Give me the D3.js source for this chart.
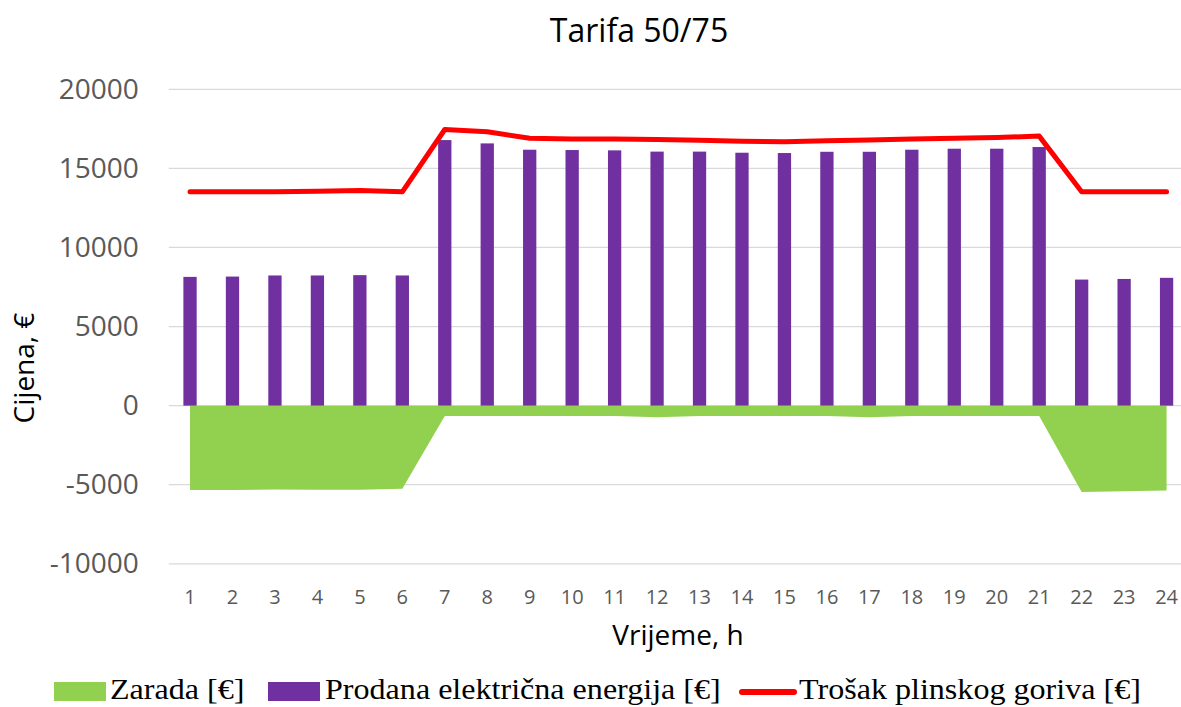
<!DOCTYPE html>
<html>
<head>
<meta charset="utf-8">
<script src="https://cdn.jsdelivr.net/npm/d3@7"></script>
<style>
  html, body { margin: 0; padding: 0; background: #fff; }
  svg { display: block; }
</style>
</head>
<body>
<svg id="chart" width="1181" height="707"></svg>
<script>
// Hours of the day
const hours = d3.range(1, 25).map(String);

// Sold electricity per hour [€]
const soldElectricity = [
  8140, 8160, 8230, 8230, 8250, 8230,
  16790, 16580, 16180, 16160, 16140, 16060,
  16060, 15990, 15970, 16050, 16050, 16180,
  16245, 16245, 16350, 7970, 8010, 8080
];

// Gas fuel cost per hour [€]
const gasCost = [
  13520, 13520, 13530, 13550, 13600, 13520,
  17460, 17320, 16900, 16860, 16850, 16830,
  16780, 16720, 16680, 16740, 16800, 16860,
  16910, 16950, 17040, 13520, 13520, 13520
];

// Earnings per hour [€]
const earnings = [
  -5340, -5340, -5310, -5320, -5320, -5260,
  -650, -650, -650, -650, -650, -740,
  -650, -650, -650, -650, -740, -650,
  -650, -650, -650, -5460, -5420, -5360
];

const yTicks = [-10000, -5000, 0, 5000, 10000, 15000, 20000];

const legendLabels = ["Zarada [€]", "Prodana električna energija [€]", "Trošak plinskog goriva [€]"];

const colors = { earnings: "#92D050", sold: "#7030A0", cost: "#FF0000" };

const svg = d3.select("#chart");
const sansFont = "'Open Sans', 'Noto Sans', sans-serif";
const serifFont = "'Liberation Serif', 'Times New Roman', serif";

const plot = { left: 168.8, right: 1187.8, top: 89.3, bottom: 563.8 };

const x = d3.scaleBand()
  .domain(hours)
  .range([plot.left, plot.right])
  .paddingInner(0.687)
  .paddingOuter(0.3435);

const step = x.step();
const cx = h => plot.left + step * (hours.indexOf(h) + 0.5);

const y = d3.scaleLinear()
  .domain([-10000, 20000])
  .range([plot.bottom, plot.top]);

// Horizontal gridlines
svg.append("g")
  .selectAll("line")
  .data(yTicks)
  .join("line")
  .attr("x1", plot.left)
  .attr("x2", plot.right)
  .attr("y1", d => y(d))
  .attr("y2", d => y(d))
  .attr("stroke", "#d9d9d9")
  .attr("stroke-width", 1.3);

// Y axis labels (plain hyphen for negatives)
const yAxis = svg.append("g")
  .attr("transform", `translate(${plot.left},0)`)
  .call(d3.axisLeft(y).tickValues(yTicks).tickSize(0).tickPadding(30).tickFormat(d => String(d)));
yAxis.select(".domain").remove();
yAxis.selectAll("text")
  .attr("font-family", sansFont)
  .attr("font-size", 28)
  .attr("fill", "#595959");

// X axis labels
const xAxis = svg.append("g")
  .attr("transform", `translate(0,${plot.bottom})`)
  .call(d3.axisBottom(x).tickSize(0).tickPadding(26));
xAxis.select(".domain").remove();
xAxis.selectAll("text")
  .attr("font-family", sansFont)
  .attr("font-size", 20)
  .attr("fill", "#595959");

// Earnings area (below zero)
const area = d3.area()
  .x((d, i) => cx(hours[i]))
  .y0(y(0))
  .y1(d => y(d));
svg.append("path")
  .datum(earnings)
  .attr("d", area)
  .attr("fill", colors.earnings);

// Sold electricity bars
svg.append("g")
  .selectAll("rect")
  .data(soldElectricity)
  .join("rect")
  .attr("x", (d, i) => x(hours[i]))
  .attr("width", x.bandwidth())
  .attr("y", d => y(d))
  .attr("height", d => y(0) - y(d))
  .attr("fill", colors.sold);

// Gas cost line
const line = d3.line()
  .x((d, i) => cx(hours[i]))
  .y(d => y(d));
svg.append("path")
  .datum(gasCost)
  .attr("d", line)
  .attr("fill", "none")
  .attr("stroke", colors.cost)
  .attr("stroke-width", 5)
  .attr("stroke-linecap", "round")
  .attr("stroke-linejoin", "round");

// Title
svg.append("text")
  .attr("x", 639)
  .attr("y", 42)
  .attr("text-anchor", "middle")
  .attr("font-family", sansFont)
  .attr("font-size", 32)
  .attr("fill", "#000")
  .text("Tarifa 50/75");

// Axis titles
svg.append("text")
  .attr("transform", "translate(34,368) rotate(-90)")
  .attr("text-anchor", "middle")
  .attr("font-family", sansFont)
  .attr("font-size", 28)
  .attr("fill", "#000")
  .text("Cijena, €");

svg.append("text")
  .attr("x", 678)
  .attr("y", 645)
  .attr("text-anchor", "middle")
  .attr("font-family", sansFont)
  .attr("font-size", 28)
  .attr("fill", "#000")
  .text("Vrijeme, h");

// Legend
const legend = svg.append("g");
legend.append("rect")
  .attr("x", 54).attr("y", 682).attr("width", 52).attr("height", 19)
  .attr("fill", colors.earnings);
legend.append("rect")
  .attr("x", 268).attr("y", 682).attr("width", 52).attr("height", 19)
  .attr("fill", colors.sold);
legend.append("line")
  .attr("x1", 742).attr("x2", 794).attr("y1", 692).attr("y2", 692)
  .attr("stroke", colors.cost)
  .attr("stroke-width", 6)
  .attr("stroke-linecap", "round");

const legendX = [110, 325, 799];
legend.selectAll("g.lbl")
  .data(legendLabels)
  .join("g")
  .attr("class", "lbl")
  .attr("transform", (d, i) => `translate(${legendX[i]},699) scale(1.07,1)`)
  .append("text")
  .attr("font-family", serifFont)
  .attr("font-size", 30)
  .attr("fill", "#000")
  .text(d => d);
</script>
</body>
</html>
